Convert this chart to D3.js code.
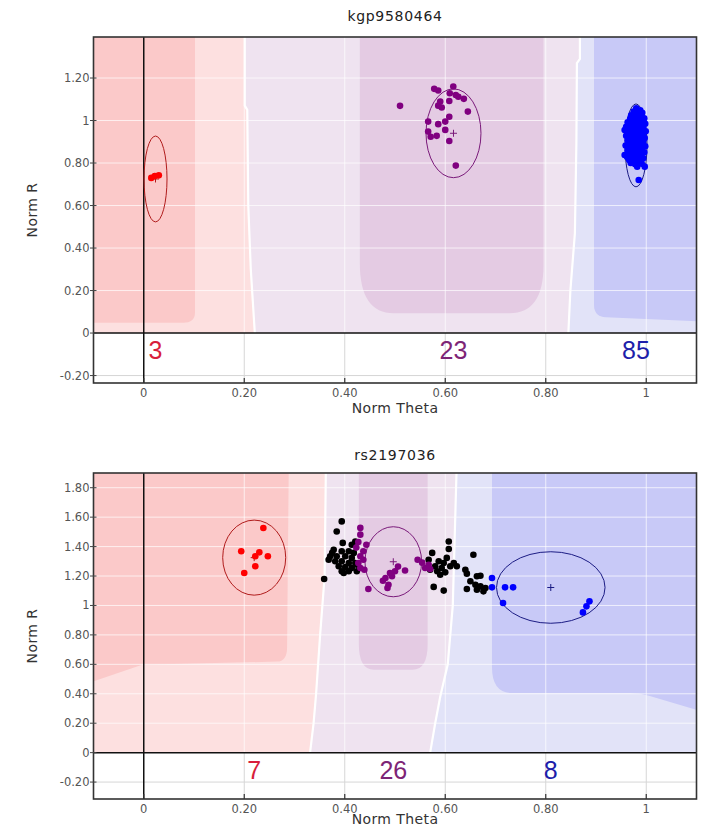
<!DOCTYPE html>
<html>
<head>
<meta charset="utf-8">
<script src="https://cdn.jsdelivr.net/npm/d3@7"></script>
<style>
  html, body { margin: 0; padding: 0; background: #ffffff; }
  svg { display: block; }
</style>
</head>
<body>
<svg id="chart" width="709" height="832"></svg>
<script>
// ---------------------------------------------------------------------------
// Shared axis data
// ---------------------------------------------------------------------------
const thetaExtent = [-0.1, 1.1];
const thetaTicks = [0, 0.2, 0.4, 0.6, 0.8, 1];

// ---------------------------------------------------------------------------
// SNP 1 : kgp9580464
// ---------------------------------------------------------------------------
const snp1Name = "kgp9580464";
const snp1RExtent = [-0.235, 1.393];
const snp1RTicks = [-0.2, 0, 0.2, 0.4, 0.6, 0.8, 1, 1.2];

// genotype calls, [norm theta, norm R]
const snp1AA = [[0.015, 0.730], [0.022, 0.739], [0.030, 0.742]];
const snp1AB = [
  [0.578, 1.149], [0.586, 1.141], [0.616, 1.160], [0.609, 1.128], [0.621, 1.120],
  [0.626, 1.112], [0.637, 1.102], [0.608, 1.092], [0.590, 1.089], [0.586, 1.070],
  [0.593, 1.061], [0.645, 1.042], [0.608, 1.018], [0.600, 0.995], [0.586, 0.983],
  [0.566, 0.995], [0.600, 0.956], [0.566, 0.948], [0.571, 0.924], [0.583, 0.928],
  [0.608, 0.904], [0.621, 0.788], [0.510, 1.069]
];
const snp1BB = [
  [0.980, 1.057], [0.988, 1.048], [0.975, 1.042], [0.992, 1.036], [0.982, 1.030],
  [0.970, 1.025], [0.990, 1.020], [0.978, 1.015], [0.996, 1.010], [0.968, 1.008],
  [0.985, 1.004], [0.974, 0.999], [0.993, 0.995], [0.963, 0.992], [0.981, 0.989],
  [0.998, 0.985], [0.970, 0.982], [0.988, 0.978], [0.977, 0.974], [0.960, 0.970],
  [0.994, 0.968], [0.983, 0.964], [0.967, 0.960], [0.957, 0.955], [0.990, 0.957],
  [0.975, 0.952], [0.999, 0.949], [0.985, 0.945], [0.964, 0.942], [0.972, 0.938],
  [0.993, 0.935], [0.980, 0.931], [0.960, 0.928], [0.989, 0.925], [0.969, 0.921],
  [0.997, 0.918], [0.978, 0.915], [0.986, 0.910], [0.963, 0.907], [0.974, 0.903],
  [0.994, 0.900], [0.982, 0.896], [0.966, 0.892], [0.990, 0.889], [0.976, 0.885],
  [0.959, 0.882], [0.998, 0.879], [0.984, 0.875], [0.970, 0.871], [0.992, 0.868],
  [0.979, 0.864], [0.963, 0.860], [0.987, 0.857], [0.973, 0.853], [0.996, 0.850],
  [0.981, 0.846], [0.957, 0.838], [0.967, 0.842], [0.990, 0.840], [0.976, 0.836],
  [0.985, 0.831], [0.962, 0.828], [0.971, 0.824], [0.994, 0.822], [0.980, 0.818],
  [0.966, 0.814], [0.988, 0.811], [0.975, 0.807], [0.983, 0.803], [0.969, 0.800],
  [0.991, 0.797], [0.978, 0.794], [0.986, 1.026], [0.979, 0.980], [0.987, 0.940],
  [0.976, 0.925], [0.983, 0.905], [0.972, 0.880], [0.988, 0.862], [0.977, 0.848],
  [0.982, 0.826], [0.984, 0.996], [0.982, 0.783], [0.997, 0.783], [0.985, 0.720]
];
const snp1NoCall = [];

// cluster ellipses: [mean theta, mean R, theta half-width, R half-height]
const snp1Clusters = [
  [0.0234, 0.725, 0.0229, 0.202],
  [0.6164, 0.940, 0.0547, 0.209],
  [0.9796, 0.883, 0.0219, 0.195]
];

// call-region boundaries (theta, R), listed from R = 0 upward
const snp1BoundaryAA = [[0.221, 0], [0.213, 0.3], [0.208, 0.6], [0.206, 1.05], [0.201, 1.07], [0.201, 1.5]];
const snp1BoundaryBB = [[0.845, 0], [0.849, 0.2], [0.858, 0.47], [0.861, 0.9], [0.862, 1.27], [0.868, 1.29], [0.868, 1.5]];
// high-confidence cores
const snp1CoreAA = [[-0.2, 1.5], [0.102, 1.5], [0.102, 0.048], [-0.2, 0.048]];
const snp1CoreAB = [[0.430, 1.5], [0.430, 0.093], [0.7955, 0.093], [0.7955, 1.5]];
const snp1CoreBB = [[0.896, 1.5], [0.896, 0.077], [1.2, 0.045], [1.2, 1.5]];

// ---------------------------------------------------------------------------
// SNP 2 : rs2197036
// ---------------------------------------------------------------------------
const snp2Name = "rs2197036";
const snp2RExtent = [-0.315, 1.9];
const snp2RTicks = [-0.2, 0, 0.2, 0.4, 0.6, 0.8, 1, 1.2, 1.4, 1.6, 1.8];

const snp2AA = [
  [0.238, 1.526], [0.194, 1.368], [0.230, 1.361], [0.222, 1.334],
  [0.247, 1.334], [0.222, 1.266], [0.200, 1.221]
];
const snp2AB = [
  [0.431, 1.527], [0.431, 1.481], [0.427, 1.431], [0.423, 1.393], [0.437, 1.368],
  [0.431, 1.334], [0.437, 1.311], [0.427, 1.289], [0.431, 1.255], [0.439, 1.243],
  [0.500, 1.232], [0.520, 1.238], [0.490, 1.221], [0.494, 1.198], [0.481, 1.187],
  [0.476, 1.168], [0.487, 1.141], [0.485, 1.119], [0.447, 1.112], [0.545, 1.311],
  [0.560, 1.255], [0.567, 1.277], [0.570, 1.248], [0.554, 1.291], [0.443, 1.413],
  [0.506, 1.264]
];
const snp2BB = [
  [0.693, 1.187], [0.693, 1.123], [0.719, 1.123], [0.735, 1.123],
  [0.715, 1.017], [0.887, 1.028], [0.881, 0.994], [0.874, 0.953]
];
const snp2NoCall = [
  [0.394, 1.571], [0.384, 1.503], [0.396, 1.425], [0.414, 1.413], [0.421, 1.435],
  [0.378, 1.379], [0.394, 1.368], [0.408, 1.368], [0.418, 1.357], [0.371, 1.334],
  [0.384, 1.334], [0.401, 1.334], [0.414, 1.323], [0.368, 1.311], [0.381, 1.300],
  [0.394, 1.300], [0.408, 1.289], [0.421, 1.289], [0.388, 1.266], [0.401, 1.261],
  [0.414, 1.255], [0.394, 1.232], [0.408, 1.232], [0.424, 1.232], [0.398, 1.221],
  [0.359, 1.180], [0.424, 1.277], [0.375, 1.357],
  [0.607, 1.435], [0.607, 1.384], [0.656, 1.345], [0.574, 1.357], [0.603, 1.323],
  [0.587, 1.300], [0.597, 1.289], [0.580, 1.266], [0.593, 1.255], [0.610, 1.266],
  [0.623, 1.266], [0.570, 1.243], [0.584, 1.232], [0.600, 1.225], [0.640, 1.243],
  [0.643, 1.216], [0.590, 1.209], [0.663, 1.198], [0.670, 1.202], [0.650, 1.164],
  [0.660, 1.141], [0.670, 1.130], [0.680, 1.119], [0.676, 1.096], [0.643, 1.112],
  [0.663, 1.107], [0.577, 1.126], [0.597, 1.101], [0.567, 1.311], [0.617, 1.289]
];

const snp2Clusters = [
  [0.2198, 1.325, 0.0627, 0.255],
  [0.4966, 1.297, 0.0564, 0.238],
  [0.8100, 1.122, 0.1080, 0.243]
];

const snp2BoundaryAA = [[0.331, 0], [0.338, 0.2], [0.343, 0.4], [0.351, 0.8], [0.360, 1.2], [0.363, 2.1]];
const snp2BoundaryBB = [[0.570, 0], [0.580, 0.2], [0.590, 0.38], [0.605, 0.6], [0.615, 1.0], [0.624, 2.1]];
const snp2CoreAA = [[-0.2, 2.1], [0.289, 2.1], [0.285, 0.62], [-0.003, 0.598], [-0.2, 0.367]];
const snp2CoreAB = [[0.428, 2.1], [0.428, 0.564], [0.565, 0.564], [0.565, 2.1]];
const snp2CoreBB = [[0.693, 2.1], [0.693, 0.405], [0.988, 0.405], [1.2, 0.19], [1.2, 2.1]];

// ---------------------------------------------------------------------------
// Styling
// ---------------------------------------------------------------------------
const genotypeStyle = {
  AA: { point: "#ff0000", ring: "#b01c1c", label: "#d81e3c", light: "#fde0e0", core: "#fbc9c9" },
  AB: { point: "#800080", ring: "#7a1a7a", label: "#7d2476", light: "#efe3f0", core: "#e4cbe3" },
  BB: { point: "#0000ff", ring: "#1c1c84", label: "#1e1eaa", light: "#e2e3f8", core: "#c8c9f7" }
};
const smallFont = "'DejaVu Sans', Verdana, sans-serif";
const countFont = "'Liberation Sans', Arial, sans-serif";

const plotLeft = 93.5, plotRight = 696.5;

const panels = [
  {
    name: snp1Name, rExtent: snp1RExtent, rTicks: snp1RTicks,
    top: 37, bottom: 383, titleY: 21, tickLabelGap: 13.5, axisTitleGap: 30,
    calls: { AA: snp1AA, AB: snp1AB, BB: snp1BB }, noCall: snp1NoCall,
    clusters: snp1Clusters, boundaryAA: snp1BoundaryAA, boundaryBB: snp1BoundaryBB,
    cores: { AA: snp1CoreAA, AB: snp1CoreAB, BB: snp1CoreBB },
    coreCorners: { AA: [0, 0, [10, 12], 0], AB: [0, [50, 34], [34, 48], 0], BB: [0, [12, 12], 0, 0] }
  },
  {
    name: snp2Name, rExtent: snp2RExtent, rTicks: snp2RTicks,
    top: 473, bottom: 799, titleY: 460, tickLabelGap: 13.5, axisTitleGap: 24.5,
    calls: { AA: snp2AA, AB: snp2AB, BB: snp2BB }, noCall: snp2NoCall,
    clusters: snp2Clusters, boundaryAA: snp2BoundaryAA, boundaryBB: snp2BoundaryBB,
    cores: { AA: snp2CoreAA, AB: snp2CoreAB, BB: snp2CoreBB },
    coreCorners: { AA: [0, 0, [14, 10], 0, 0], AB: [0, [26, 15], [15, 26], 0], BB: [0, [26, 20], [10, 10], 0, 0] }
  }
];

const fmtTick = v => (v === 0 ? "0" : Number.isInteger(v) ? String(v) : v.toFixed(2));

// point moved from p toward q by dist pixels (at most half the edge)
function towards(p, q, dist) {
  const dx = q[0] - p[0], dy = q[1] - p[1];
  const len = Math.hypot(dx, dy);
  const t = Math.min(dist / len, 0.5);
  return [p[0] + dx * t, p[1] + dy * t];
}
// closed polygon path with optional rounded corners (radii in px per vertex)
function roundedPath(pts, radii) {
  const n = pts.length;
  let d = "";
  for (let i = 0; i < n; i++) {
    const p = pts[i];
    const r = radii ? radii[i] : 0;
    const cmd = i === 0 ? "M" : "L";
    if (!r) { d += cmd + p[0] + "," + p[1]; continue; }
    const a = towards(p, pts[(i - 1 + n) % n], r[0]);
    const b = towards(p, pts[(i + 1) % n], r[1]);
    d += cmd + a[0] + "," + a[1] + "Q" + p[0] + "," + p[1] + " " + b[0] + "," + b[1];
  }
  return d + "Z";
}

const svg = d3.select("#chart");

panels.forEach((pn, idx) => {
  const x = d3.scaleLinear().domain(thetaExtent).range([plotLeft, plotRight]);
  const y = d3.scaleLinear().domain(pn.rExtent).range([pn.bottom, pn.top]);
  const toPx = pts => pts.map(([t, r]) => [x(t), y(r)]);
  const g = svg.append("g");

  const clipId = "plot-clip-" + idx;
  svg.append("defs").append("clipPath").attr("id", clipId)
    .append("rect").attr("x", plotLeft).attr("y", pn.top)
    .attr("width", plotRight - plotLeft).attr("height", pn.bottom - pn.top);

  const plot = g.append("g").attr("clip-path", `url(#${clipId})`);
  plot.append("rect").attr("x", plotLeft).attr("y", pn.top)
    .attr("width", plotRight - plotLeft).attr("height", pn.bottom - pn.top)
    .attr("fill", "#ffffff");

  // call regions (light) built from the two boundaries
  const bA = pn.boundaryAA, bB = pn.boundaryBB;
  const topA = bA[bA.length - 1][1], topB = bB[bB.length - 1][1];
  const lightRegions = {
    AA: [[-0.2, 0], ...bA, [-0.2, topA]],
    AB: [...bA.slice().reverse(), ...bB],
    BB: [...bB, [1.2, topB], [1.2, 0]]
  };
  ["AA", "AB", "BB"].forEach(k => {
    plot.append("path").attr("d", roundedPath(toPx(lightRegions[k])))
      .attr("fill", genotypeStyle[k].light);
  });
  ["AA", "AB", "BB"].forEach(k => {
    plot.append("path").attr("d", roundedPath(toPx(pn.cores[k]), pn.coreCorners[k]))
      .attr("fill", genotypeStyle[k].core);
  });
  const boundaryLine = d3.line().x(d => x(d[0])).y(d => y(d[1]));
  [bA, bB].forEach(b => {
    plot.append("path").attr("d", boundaryLine(b))
      .attr("fill", "none").attr("stroke", "#ffffff").attr("stroke-width", 2.2);
  });

  // lower band (R < 0) stays white
  const y0 = y(0);
  plot.append("rect").attr("x", plotLeft).attr("y", y0)
    .attr("width", plotRight - plotLeft).attr("height", pn.bottom - y0)
    .attr("fill", "#ffffff");

  // grid
  thetaTicks.filter(t => t !== 0).forEach(t => {
    plot.append("line").attr("x1", x(t)).attr("x2", x(t)).attr("y1", pn.top).attr("y2", y0)
      .attr("stroke", "#ffffff").attr("stroke-opacity", 0.7).attr("stroke-width", 1);
    plot.append("line").attr("x1", x(t)).attr("x2", x(t)).attr("y1", y0).attr("y2", pn.bottom)
      .attr("stroke", "#d6d6d6").attr("stroke-width", 1);
  });
  pn.rTicks.filter(r => r !== 0).forEach(r => {
    const c = r < 0 ? "#d6d6d6" : "#ffffff";
    plot.append("line").attr("x1", plotLeft).attr("x2", plotRight).attr("y1", y(r)).attr("y2", y(r))
      .attr("stroke", c).attr("stroke-opacity", r < 0 ? 1 : 0.7).attr("stroke-width", 1);
  });

  // zero lines
  plot.append("line").attr("x1", x(0)).attr("x2", x(0)).attr("y1", pn.top).attr("y2", pn.bottom)
    .attr("stroke", "#111111").attr("stroke-width", 1.5);
  plot.append("line").attr("x1", plotLeft).attr("x2", plotRight).attr("y1", y0).attr("y2", y0)
    .attr("stroke", "#111111").attr("stroke-width", 1.5);

  // cluster ellipses and centre crosses
  const keys = ["AA", "AB", "BB"];
  pn.clusters.forEach((c, i) => {
    const st = genotypeStyle[keys[i]];
    const cx = x(c[0]), cy = y(c[1]);
    plot.append("ellipse").attr("cx", cx).attr("cy", cy)
      .attr("rx", x(c[0] + c[2]) - cx).attr("ry", cy - y(c[1] + c[3]))
      .attr("fill", "none").attr("stroke", st.ring).attr("stroke-width", 1);
    plot.append("path").attr("d", `M${cx - 3.5},${cy}H${cx + 3.5}M${cx},${cy - 3.5}V${cy + 3.5}`)
      .attr("stroke", st.ring).attr("stroke-width", 1);
  });

  // samples
  plot.append("g").selectAll("circle").data(pn.noCall).join("circle")
    .attr("cx", d => x(d[0])).attr("cy", d => y(d[1])).attr("r", 3.3).attr("fill", "#000000");
  keys.forEach(k => {
    plot.append("g").selectAll("circle").data(pn.calls[k]).join("circle")
      .attr("cx", d => x(d[0])).attr("cy", d => y(d[1])).attr("r", 3.3)
      .attr("fill", genotypeStyle[k].point);
  });

  // sample counts per genotype, under the cluster centres
  keys.forEach((k, i) => {
    g.append("text").attr("x", x(pn.clusters[i][0])).attr("y", y0 + 17)
      .attr("text-anchor", "middle").attr("dominant-baseline", "central")
      .attr("font-family", countFont).attr("font-size", 25)
      .attr("fill", genotypeStyle[k].label).text(pn.calls[k].length);
  });

  // frame
  g.append("rect").attr("x", plotLeft).attr("y", pn.top)
    .attr("width", plotRight - plotLeft).attr("height", pn.bottom - pn.top)
    .attr("fill", "none").attr("stroke", "#333333").attr("stroke-width", 1.6);

  // y axis
  pn.rTicks.forEach(r => {
    g.append("line").attr("x1", plotLeft - 3.5).attr("x2", plotLeft + 3).attr("y1", y(r)).attr("y2", y(r))
      .attr("stroke", "#444444").attr("stroke-width", 1);
    g.append("text").attr("x", plotLeft - 4).attr("y", y(r))
      .attr("text-anchor", "end").attr("dominant-baseline", "central")
      .attr("font-family", smallFont).attr("font-size", 11.5).attr("fill", "#555555")
      .text(fmtTick(r));
  });
  // x axis
  thetaTicks.forEach(t => {
    g.append("line").attr("x1", x(t)).attr("x2", x(t)).attr("y1", pn.bottom - 5).attr("y2", pn.bottom)
      .attr("stroke", "#333333").attr("stroke-width", 1.2);
    g.append("text").attr("x", x(t)).attr("y", pn.bottom + pn.tickLabelGap)
      .attr("text-anchor", "middle")
      .attr("font-family", smallFont).attr("font-size", 11.5).attr("fill", "#555555")
      .text(fmtTick(t));
  });

  const midX = (plotLeft + plotRight) / 2;
  g.append("text").attr("x", midX).attr("y", pn.bottom + pn.axisTitleGap)
    .attr("text-anchor", "middle").attr("font-family", smallFont).attr("font-size", 14)
    .attr("letter-spacing", 0.4).attr("fill", "#333333").text("Norm Theta");
  g.append("text").attr("transform", `translate(32,${(pn.top + pn.bottom) / 2}) rotate(-90)`)
    .attr("text-anchor", "middle").attr("dominant-baseline", "central")
    .attr("font-family", smallFont).attr("font-size", 14)
    .attr("letter-spacing", 0.4).attr("fill", "#333333").text("Norm R");
  g.append("text").attr("x", midX).attr("y", pn.titleY)
    .attr("text-anchor", "middle").attr("font-family", smallFont).attr("font-size", 14)
    .attr("letter-spacing", 0.7).attr("fill", "#222222").text(pn.name);
});
</script>
</body>
</html>
